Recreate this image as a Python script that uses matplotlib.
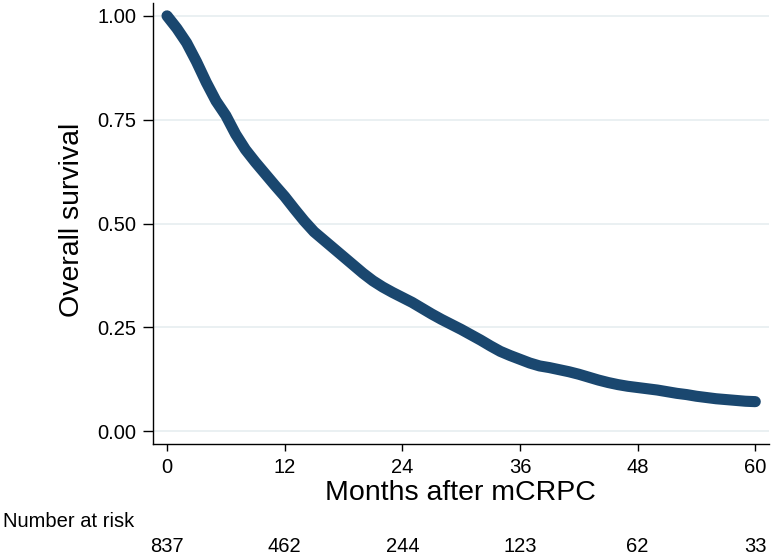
"""Kaplan-Meier overall survival after mCRPC, Stata-style layout."""

import matplotlib

matplotlib.use("Agg", force=True)
import matplotlib.pyplot as plt
import matplotlib.transforms as mtransforms

# survival estimate, one value per month
months = list(range(0, 61))
survival = [
    1.000, 0.970, 0.935, 0.890, 0.840, 0.795, 0.760, 0.715, 0.678, 0.648,
    0.620, 0.592, 0.565, 0.535, 0.506, 0.480, 0.460, 0.440, 0.420, 0.400,
    0.380, 0.362, 0.347, 0.334, 0.322, 0.310, 0.296, 0.282, 0.269, 0.257,
    0.245, 0.232, 0.219, 0.205, 0.192, 0.182, 0.173, 0.164, 0.157, 0.153,
    0.148, 0.143, 0.137, 0.130, 0.123, 0.117, 0.112, 0.108, 0.105, 0.102,
    0.099, 0.095, 0.091, 0.088, 0.084, 0.081, 0.078, 0.076, 0.074, 0.072,
    0.071,
]

x_ticks = [0, 12, 24, 36, 48, 60]
y_ticks = [0.00, 0.25, 0.50, 0.75, 1.00]
at_risk = [837, 462, 244, 123, 62, 33]

NAVY = "#1a476f"
GRID = "#e6eef0"
SMALL = 14.5

plt.rcParams["font.family"] = ["Liberation Sans", "DejaVu Sans"]

fig = plt.figure(figsize=(7.75, 5.56), dpi=100)
ax = fig.add_axes([153 / 775, 1 - 444 / 556, (769 - 153) / 775, (444 - 3) / 556])

ax.plot(months, survival, color=NAVY, linewidth=8, solid_capstyle="round",
        solid_joinstyle="round", zorder=3)

ax.set_xlim(-1.43, 61.4)
ax.set_ylim(-0.031, 1.031)
ax.set_xticks(x_ticks)
ax.set_yticks(y_ticks)
ax.set_yticklabels([f"{v:.2f}" for v in y_ticks])
ax.tick_params(axis="x", length=5, width=1.0, pad=5, labelsize=SMALL)
ax.tick_params(axis="y", length=7, width=1.0, pad=5, labelsize=SMALL)
ax.grid(axis="y", color=GRID, linewidth=1.2, zorder=0)
ax.set_axisbelow(True)

for side in ("top", "right"):
    ax.spines[side].set_visible(False)
for side in ("left", "bottom"):
    ax.spines[side].set_linewidth(1.0)

fig.text(72 / 775, 1 - 220 / 556, "Overall survival", rotation=90,
         ha="center", va="center", fontsize=20.5)
fig.text(460 / 775, 1 - 500 / 556, "Months after mCRPC",
         ha="center", va="baseline", fontsize=20.5)

# number at risk table
fig.text(3 / 775, 1 - 527 / 556, "Number at risk", ha="left",
         va="baseline", fontsize=SMALL)
trans = mtransforms.blended_transform_factory(ax.transData, fig.transFigure)
for t, n in zip(x_ticks, at_risk):
    ax.text(t, 1 - 552 / 556, str(n), transform=trans, ha="center",
            va="baseline", fontsize=SMALL, clip_on=False)

fig.savefig("out.png", dpi=100)
plt.close(fig)
